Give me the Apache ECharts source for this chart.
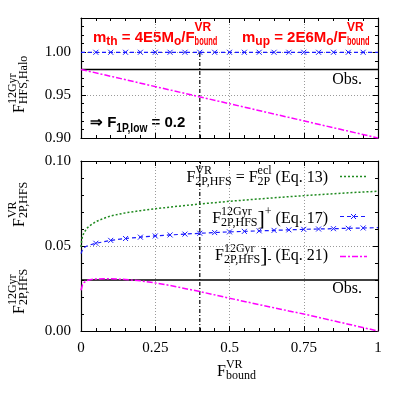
<!DOCTYPE html>
<html><head><meta charset="utf-8">
<script src="https://cdn.jsdelivr.net/npm/echarts@6/dist/echarts.min.js"></script>
<style>html,body{margin:0;padding:0;background:#fff}#c{width:407px;height:398px}</style>
</head><body><div id="c"></div>
<script>
// ---------------- data ----------------
const haloX     = [0, 0.05, 0.1, 0.15, 0.2, 0.25, 0.3, 0.35, 0.4, 0.45, 0.5, 0.55, 0.6, 0.65, 0.7, 0.75, 0.8, 0.85, 0.9, 0.95, 1.0];
const haloPlus  = [1.00, 1.00, 1.00, 1.00, 1.00, 1.00, 1.00, 1.00, 1.00, 1.00, 1.00, 1.00, 1.00, 1.00, 1.00, 1.00, 1.00, 1.00, 1.00, 1.00, 1.00];
const haloMinusX = [0, 1];
const haloMinus  = [0.98, 0.90];
const obsHalo = 0.98;
const obsPop = 0.03;
const fBoundSel = 0.4;

const eclX = [0, 0.002, 0.005, 0.01, 0.02, 0.03, 0.05, 0.075, 0.1, 0.15, 0.2, 0.25, 0.3, 0.4, 0.5, 0.6, 0.7, 0.8, 0.9, 1.0];
const eclY = [0.0495, 0.0530, 0.0555, 0.0578, 0.0605, 0.0620, 0.0643, 0.0662, 0.0677, 0.0695, 0.0708, 0.0719, 0.0729, 0.0747, 0.0763, 0.0777, 0.0790, 0.0802, 0.0813, 0.0822];

const plusX = [0, 0.005, 0.01, 0.02, 0.03, 0.05, 0.1, 0.15, 0.2, 0.25, 0.3, 0.35, 0.4, 0.45, 0.5, 0.55, 0.6, 0.65, 0.7, 0.75, 0.8, 0.85, 0.9, 0.95, 1.0];
const plusY = [0.0455, 0.0478, 0.0490, 0.0500, 0.0506, 0.0516, 0.0533, 0.0544, 0.0552, 0.0559, 0.0565, 0.0570, 0.0575, 0.0579, 0.0583, 0.0586, 0.0589, 0.0592, 0.0595, 0.0598, 0.0600, 0.0602, 0.0604, 0.0606, 0.0608];

const minusX = [0, 0.005, 0.01, 0.02, 0.03, 0.05, 0.075, 0.1, 0.15, 0.2, 0.25, 0.3, 0.4, 0.5, 0.6, 0.7, 0.75, 0.8, 0.9, 1.0];
const minusY = [0.0240, 0.0272, 0.0285, 0.0297, 0.0302, 0.0306, 0.0307, 0.0307, 0.0303, 0.0295, 0.0283, 0.0268, 0.0232, 0.0193, 0.0155, 0.0118, 0.0100, 0.0080, 0.0040, 0.0000];

const topRange = [0.90, 1.04];
const botRange = [0.00, 0.10];

// ---------------- helpers ----------------
const cv = document.createElement('canvas').getContext('2d');
function tw(t, f) { cv.font = f; return cv.measureText(t).width; }
function rt(segs, o) {
  const fam = o.family, wt = o.weight || 'normal';
  const mf = (s) => `${wt} ${s}px ${fam}`;
  let cx = 0; const kids = [];
  const add = (t, x, y, size, sx) => kids.push({ type: 'text', x: x, y: y, scaleX: sx || 1,
    style: { text: t, x: 0, y: 0, font: mf(size), fill: o.color, verticalAlign: 'middle', align: 'left' } });
  segs.forEach(s => {
    if (typeof s === 'string') { add(s, cx, 0, o.size); cx += tw(s, mf(o.size)); }
    else if (s.t) { const sz = s.size || o.size; add(s.t, cx, s.dy || 0, sz); cx += tw(s.t, mf(sz)); }
    else {
      let ww = 0;
      if (s.sup) { const sx = s.supX || 1; add(s.sup, cx, o.supDy, o.ssize, sx); ww = Math.max(ww, sx * tw(s.sup, mf(o.ssize))); }
      if (s.sub) { const sx = s.subX || 1; add(s.sub, cx, o.subDy, o.ssize, sx); ww = Math.max(ww, sx * tw(s.sub, mf(o.ssize))); }
      cx += ww + (s.gap || 0);
    }
  });
  if (o.align === 'right') kids.forEach(k => k.x -= cx);
  return { type: 'group', x: o.x, y: o.y, rotation: o.rotation || 0, children: kids, silent: true, z: 100 };
}
const serif = "'Liberation Serif','Times New Roman',serif";
const sans = "'Liberation Sans',Arial,Helvetica,sans-serif";
const SER = { family: serif, size: 16, ssize: 12, supDy: -7, subDy: 4, color: '#000' };
const RED = { family: sans, weight: 'bold', size: 15, ssize: 12, supDy: -10, subDy: 4, color: '#ff0000' };

// ---------------- chart ----------------
const grids = [
  { left: 81, top: 18, width: 297, height: 120 },
  { left: 81, top: 161, width: 297, height: 170 }
];
const gridLine = { show: true, lineStyle: { color: '#9a9a9a', type: [1, 2], width: 1 } };
function xAx(gi, pos, labels) {
  return {
    type: 'value', gridIndex: gi, position: pos, min: 0, max: 1, interval: 0.25,
    axisLine: { show: true, onZero: false, lineStyle: { color: '#000', width: 1.2 } },
    axisTick: { show: true, inside: true, length: 5, lineStyle: { color: '#000' } },
    minorTick: { show: true, splitNumber: 5, length: 3, lineStyle: { color: '#000' } },
    splitLine: pos === 'bottom' ? gridLine : { show: false },
    axisLabel: labels ? { show: true, color: '#000', fontFamily: serif, fontSize: 15, margin: 10 } : { show: false }
  };
}
function yAx(gi, pos, range, labels) {
  return {
    type: 'value', gridIndex: gi, position: pos, min: range[0], max: range[1], interval: 0.05,
    axisLine: { show: true, onZero: false, lineStyle: { color: '#000', width: 1.2 } },
    axisTick: { show: true, inside: true, length: 5, lineStyle: { color: '#000' } },
    minorTick: { show: true, splitNumber: 5, length: 3, lineStyle: { color: '#000' } },
    splitLine: pos === 'left' ? gridLine : { show: false },
    axisLabel: labels ? {
      show: true, color: '#000', fontFamily: serif, fontSize: 15, margin: 10, showMaxLabel: range[1] !== 1.04,
      formatter: v => (Math.abs(v * 100 - Math.round(v * 20) * 5) < 1e-6 ? v.toFixed(2) : '')
    } : { show: false }
  };
}
const crossSym = 'path://M0,0L10,10M10,0L0,10';
const blue = '#1a1aff', magenta = '#ff00ff', green = '#1f8a1f';
const dashBlue = [4, 3], dotGreen = [2, 2], dashDotMag = [6, 2, 2, 2];
function markerData(xs, ys) {
  return xs.map((x, i) => {
    const m = Math.round(x * 100) % 5 === 0 && x > 0.01 && x < 0.99;
    return m ? { value: [x, ys[i]] } : { value: [x, ys[i]], symbol: 'none' };
  });
}
const pairs = (xs, ys) => xs.map((x, i) => [x, ys[i]]);

const series = [
  { name: 'haloPlus', type: 'line', xAxisIndex: 0, yAxisIndex: 0, data: markerData(haloX, haloPlus),
    symbol: crossSym, symbolSize: 5, showSymbol: true,
    itemStyle: { color: blue, borderColor: blue, borderWidth: 1 },
    lineStyle: { color: blue, width: 1.2, type: dashBlue }, z: 4 },
  { name: 'haloMinus', type: 'line', xAxisIndex: 0, yAxisIndex: 0, data: pairs(haloMinusX, haloMinus),
    symbol: 'none', lineStyle: { color: magenta, width: 1.5, type: dashDotMag }, z: 4 },
  { name: 'obsTop', type: 'line', xAxisIndex: 0, yAxisIndex: 0, data: [[0, obsHalo], [1, obsHalo]],
    symbol: 'none', lineStyle: { color: '#000', width: 1.6 }, z: 3 },
  { name: 'selTop', type: 'line', xAxisIndex: 0, yAxisIndex: 0, data: [[fBoundSel, topRange[0]], [fBoundSel, 1.00]],
    symbol: 'none', lineStyle: { color: '#000', width: 1.2, type: [4, 2, 1, 2] }, z: 3 },

  { name: 'eq13', type: 'line', xAxisIndex: 2, yAxisIndex: 2, data: pairs(eclX, eclY),
    symbol: 'none', itemStyle: { color: green },
    lineStyle: { color: green, width: 1.5, type: dotGreen }, z: 4 },
  { name: 'eq17', type: 'line', xAxisIndex: 2, yAxisIndex: 2, data: markerData(plusX, plusY),
    symbol: crossSym, symbolSize: 5, showSymbol: true,
    itemStyle: { color: blue, borderColor: blue, borderWidth: 1 },
    lineStyle: { color: blue, width: 1.2, type: dashBlue }, z: 4 },
  { name: 'eq21', type: 'line', xAxisIndex: 2, yAxisIndex: 2, data: pairs(minusX, minusY),
    symbol: 'none', itemStyle: { color: magenta },
    lineStyle: { color: magenta, width: 1.5, type: dashDotMag }, z: 4 },
  { name: 'obsBot', type: 'line', xAxisIndex: 2, yAxisIndex: 2, data: [[0, obsPop], [1, obsPop]],
    symbol: 'none', lineStyle: { color: '#000', width: 1.6 }, z: 3 },
  { name: 'selBot', type: 'line', xAxisIndex: 2, yAxisIndex: 2, data: [[fBoundSel, botRange[0]], [fBoundSel, botRange[1]]],
    symbol: 'none', lineStyle: { color: '#000', width: 1.2, type: [4, 2, 1, 2] }, z: 3 }
];

// legend samples
function sample(y, color, dash, width, marker) {
  const els = [{ type: 'line', shape: { x1: 340, y1: y, x2: 367, y2: y }, style: { stroke: color, lineWidth: width, lineDash: dash }, silent: true, z: 100 }];
  if (marker) {
    const cx = 353.5, r = 2.5;
    els.push({ type: 'line', shape: { x1: cx - r, y1: y - r, x2: cx + r, y2: y + r }, style: { stroke: color, lineWidth: 1 }, silent: true, z: 100 });
    els.push({ type: 'line', shape: { x1: cx - r, y1: y + r, x2: cx + r, y2: y - r }, style: { stroke: color, lineWidth: 1 }, silent: true, z: 100 });
  }
  return els;
}

const graphic = [
  rt(['m', { sub: 'th' }, ' = 4E5M', { sub: 'o' }, '/F', { sup: 'VR', sub: 'bound', subX: 0.62 }], Object.assign({}, RED, { x: 93, y: 38 })),
  rt(['m', { sub: 'up' }, ' = 2E6M', { sub: 'o' }, '/F', { sup: 'VR', sub: 'bound', subX: 0.62 }], Object.assign({}, RED, { x: 242, y: 38 })),
  rt(['\u21D2 F', { sub: '1P,low', subX: 0.85 }, ' = 0.2'], { family: sans, weight: 'bold', size: 15, ssize: 12, supDy: -7, subDy: 6, color: '#000', x: 90, y: 123 }),
  rt(['Obs.'], Object.assign({}, SER, { x: 362, y: 80, align: 'right' })),
  rt(['Obs.'], Object.assign({}, SER, { x: 362, y: 289, align: 'right' })),
  // legend texts
  rt(['F', { sup: 'VR', sub: '2P,HFS' }, ' = F', { sup: 'ecl', sub: '2P' }, ' (Eq. 13)'], Object.assign({}, SER, { x: 328, y: 178, align: 'right' })),
  rt(['F', { sup: '12Gyr', sub: '2P,HFS' }, { t: ']', size: 22, dy: 0 }, { sup: '+', gap: 0 }, ' (Eq. 17)'], Object.assign({}, SER, { x: 328, y: 219, align: 'right' })),
  rt(['F', { sup: '12Gyr', sub: '2P,HFS' }, { t: ']', size: 22, dy: 0 }, { sub: '-', gap: 0 }, ' (Eq. 21)'], Object.assign({}, SER, { x: 328, y: 256, align: 'right' })),
  ...sample(176.5, green, dotGreen, 1.5, false),
  ...sample(216.5, blue, dashBlue, 1.2, true),
  ...sample(256.5, magenta, dashDotMag, 1.5, false),
  // axis titles
  rt(['F', { sup: '12Gyr', sub: 'HFS,Halo' }], Object.assign({}, SER, { x: 20, y: 113, rotation: Math.PI / 2 })),
  rt(['F', { sup: 'VR', sub: '2P,HFS' }], Object.assign({}, SER, { x: 20, y: 227, rotation: Math.PI / 2 })),
  rt(['F', { sup: '12Gyr', sub: '2P,HFS' }], Object.assign({}, SER, { x: 20, y: 314, rotation: Math.PI / 2 })),
  rt(['F', { sup: 'VR', sub: 'bound' }], Object.assign({}, SER, { x: 217, y: 372 }))
];

const chart = echarts.init(document.getElementById('c'), null, { renderer: 'canvas' });
chart.setOption({
  animation: false,
  backgroundColor: '#fff',
  grid: grids,
  xAxis: [xAx(0, 'bottom', false), xAx(0, 'top', false), xAx(1, 'bottom', true), xAx(1, 'top', false)],
  yAxis: [yAx(0, 'left', topRange, true), yAx(0, 'right', topRange, false), yAx(1, 'left', botRange, true), yAx(1, 'right', botRange, false)],
  series: series,
  graphic: graphic
});
</script></body></html>
